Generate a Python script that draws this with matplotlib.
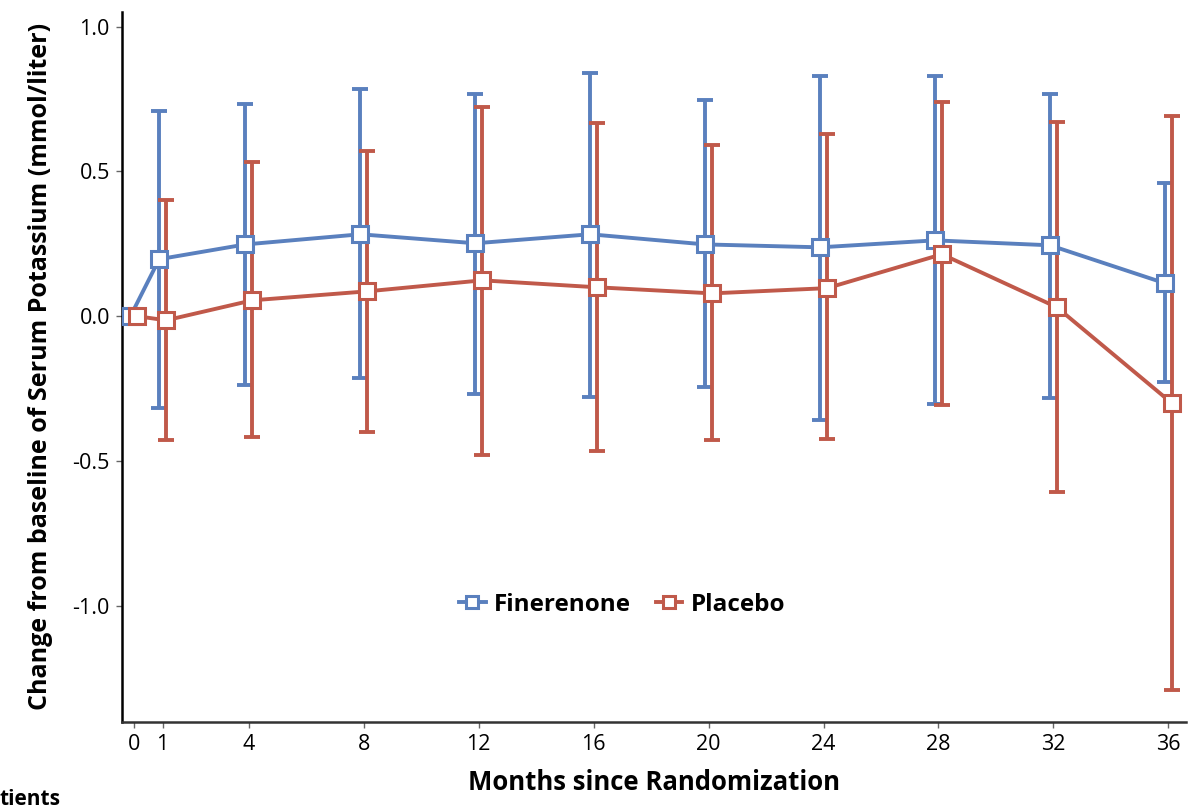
import numpy as np
import matplotlib
matplotlib.use("Agg")
import matplotlib.pyplot as plt

plt.rcParams['font.family'] = ['Open Sans', 'DejaVu Sans']

# ---------- data ----------
months = [0, 1, 4, 8, 12, 16, 20, 24, 28, 32, 36]

fin_mean = [0.0, 0.197, 0.248, 0.283, 0.252, 0.283, 0.248, 0.238, 0.262, 0.245, 0.114]
fin_hi   = [0.0, 0.710, 0.734, 0.783, 0.769, 0.841, 0.745, 0.831, 0.831, 0.769, 0.459]
fin_lo   = [0.0, -0.317, -0.238, -0.214, -0.269, -0.279, -0.245, -0.359, -0.303, -0.283, -0.228]

pla_mean = [0.0, -0.014, 0.055, 0.086, 0.124, 0.100, 0.079, 0.097, 0.214, 0.031, -0.300]
pla_hi   = [0.0, 0.400, 0.531, 0.572, 0.724, 0.666, 0.593, 0.628, 0.741, 0.672, 0.693]
pla_lo   = [0.0, -0.428, -0.417, -0.400, -0.479, -0.466, -0.428, -0.424, -0.307, -0.607, -1.290]

blue = '#5A80BE'
red = '#C0594A'

fig = plt.figure(figsize=(12, 8.1), dpi=100)
ax = fig.add_axes([0.102, 0.109, 0.886, 0.876])

def draw(ax, x, mean, lo, hi, color, label):
    x = np.asarray(x, float)
    mean = np.asarray(mean)
    err = np.vstack([mean - np.asarray(lo), np.asarray(hi) - mean])
    has = err.sum(axis=0) > 0
    ax.errorbar(x[has], mean[has], yerr=err[:, has], fmt='none', ecolor=color,
                elinewidth=2.8, capsize=6, capthick=2.8, zorder=2)
    ax.plot(x, mean, color=color, lw=2.8, marker='s', ms=11,
            mfc='white', mec=color, mew=2.2, label=label, zorder=3)

m = np.asarray(months, float)
draw(ax, m - 0.12, fin_mean, fin_lo, fin_hi, blue, 'Finerenone')
draw(ax, m + 0.12, pla_mean, pla_lo, pla_hi, red, 'Placebo')

ax.set_xlim(-0.4, 36.6)
ax.set_ylim(-1.4, 1.05)
ax.set_xticks(months)
ax.set_yticks([1.0, 0.5, 0.0, -0.5, -1.0])
ax.set_yticklabels(['1.0', '0.5', '0.0', '-0.5', '-1.0'])
ax.tick_params(labelsize=15.5, length=4, width=1, color='#666666', pad=5)

for s in ['top', 'right']:
    ax.spines[s].set_visible(False)
ax.spines['left'].set_linewidth(1.8)
ax.spines['left'].set_color('black')
ax.spines['bottom'].set_linewidth(1.8)
ax.spines['bottom'].set_color('#333333')

ax.set_xlabel('Months since Randomization', fontsize=18.5, fontweight='bold', labelpad=10)
ax.set_ylabel('Change from baseline of Serum Potassium (mmol/liter)', fontsize=18,
              fontweight='bold', labelpad=14)

leg = ax.legend(loc='center', bbox_to_anchor=(0.47, 0.165), ncol=2, frameon=False,
                prop={'weight': 'bold', 'size': 17.5}, handlelength=1.1,
                columnspacing=1.0, handletextpad=0.35, markerscale=0.75)

fig.text(0.0, 0.0, 'tients', fontsize=15, fontweight='bold', va='bottom')

fig.savefig('out.png', dpi=100)
